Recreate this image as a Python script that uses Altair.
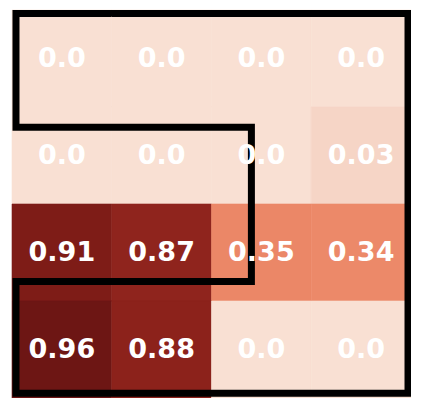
import altair as alt
import pandas as pd

# Heatmap values (rows top to bottom, columns left to right)
row0 = [0.0, 0.0, 0.0, 0.0]
row1 = [0.0, 0.0, 0.0, 0.03]
row2 = [0.91, 0.87, 0.35, 0.34]
row3 = [0.96, 0.88, 0.0, 0.0]
labels0 = ["0.0", "0.0", "0.0", "0.0"]
labels1 = ["0.0", "0.0", "0.0", "0.03"]
labels2 = ["0.91", "0.87", "0.35", "0.34"]
labels3 = ["0.96", "0.88", "0.0", "0.0"]

# Outline path (grid coordinates: column from left edge, row from top edge)
path_x = [1.0, 3.97, 3.97, 0.04, 0.04, 2.40, 2.40, 0.04, 0.04, 1.0]
path_y = [0.036, 0.036, 3.95, 3.95, 2.80, 2.80, 1.21, 1.21, 0.036, 0.036]

color_domain = [0.0, 0.03, 0.345, 0.875, 0.91, 0.96]
color_range = ["#f9e0d3", "#f6d5c6", "#ec8868", "#8e231c", "#7e1c17", "#6d1614"]

rows = [row0, row1, row2, row3]
labs = [labels0, labels1, labels2, labels3]
recs = []
for r, (vals, ls) in enumerate(zip(rows, labs)):
    for c, (v, l) in enumerate(zip(vals, ls)):
        recs.append({"c0": c, "c1": c + 1, "r0": r, "r1": r + 1,
                     "cx": c + 0.5, "ry": r + 0.5, "v": v, "label": l})
cells = pd.DataFrame(recs)
path = pd.DataFrame({"px": path_x, "py": path_y, "o": list(range(len(path_x)))})

xs = alt.Scale(domain=[0, 4], nice=False, zero=False)
ys = alt.Scale(domain=[0, 4], nice=False, zero=False, reverse=True)
cscale = alt.Scale(domain=color_domain, range=color_range)

heat = alt.Chart(cells).mark_rect(strokeWidth=0.6).encode(
    x=alt.X("c0:Q", scale=xs, axis=None),
    x2="c1",
    y=alt.Y("r0:Q", scale=ys, axis=None),
    y2="r1",
    color=alt.Color("v:Q", scale=cscale, legend=None),
    stroke=alt.Stroke("v:Q", scale=cscale, legend=None),
)

outline = alt.Chart(path).mark_line(
    color="black", strokeWidth=7, strokeJoin="miter", strokeCap="butt"
).encode(
    x=alt.X("px:Q", scale=xs, axis=None),
    y=alt.Y("py:Q", scale=ys, axis=None),
    order="o:Q",
)

text = alt.Chart(cells).mark_text(
    color="white", fontSize=27, fontWeight="bold", font="DejaVu Sans",
    align="center", baseline="middle"
).encode(
    x=alt.X("cx:Q", scale=xs, axis=None),
    y=alt.Y("ry:Q", scale=ys, axis=None),
    text="label:N",
)

chart = alt.layer(heat, outline, text).properties(
    width=399, height=388,
    padding={"left": 4, "top": 2, "right": 0, "bottom": 0},
    autosize=alt.AutoSizeParams(type="none"),
).configure_view(stroke="#cccccc", strokeWidth=1)

chart.save("out.html", embed_options={"renderer": "svg", "actions": False})
